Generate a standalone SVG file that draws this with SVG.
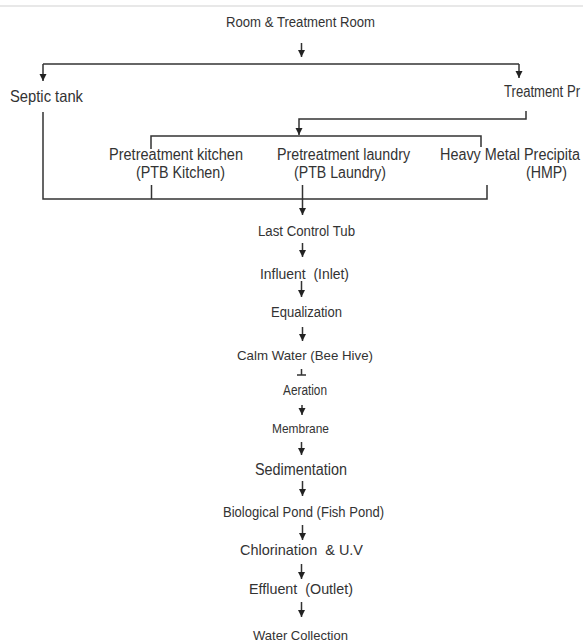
<svg xmlns="http://www.w3.org/2000/svg" width="583" height="643" viewBox="0 0 583 643">
<style>
text{font-family:"Liberation Sans",Arial,sans-serif;fill:#333;white-space:pre}
.c path{fill:none;stroke:#333;stroke-width:1.5}
</style>
<defs>
<marker id="ah" markerUnits="userSpaceOnUse" markerWidth="8" markerHeight="8" refX="7" refY="3.5" orient="auto"><path d="M0,0 L7,3.5 L0,7 z" fill="#222"/></marker>
</defs>
<rect width="583" height="643" fill="#fff"/>
<rect x="0" y="5" width="583" height="2" fill="#e8e8e8"/>
<g class="c" id="connectors">
<path d="M301.5 43 V57" marker-end="url(#ah)"/>
<path d="M43 64 H519"/>
<path d="M43 64 V81" marker-end="url(#ah)"/>
<path d="M519 64 V78" marker-end="url(#ah)"/>
<path d="M43 112 V199 H487 V185"/>
<path d="M151.5 185 V199"/>
<path d="M302.5 185 V215" marker-end="url(#ah)"/>
<path d="M526 111 V119 H299 V135" marker-end="url(#ah)"/>
<path d="M151 149 V136 H481 V147"/>
<path d="M302.5 243 V257" marker-end="url(#ah)"/>
<path d="M301.5 281 V297" marker-end="url(#ah)"/>
<path d="M302.5 327 V341" marker-end="url(#ah)"/>
<path d="M301.5 369 V375 M297 375 H306"/>
<path d="M302 405 V415" marker-end="url(#ah)"/>
<path d="M301.5 442 V455" marker-end="url(#ah)"/>
<path d="M302.5 481 V496" marker-end="url(#ah)"/>
<path d="M302.5 525 V540" marker-end="url(#ah)"/>
<path d="M301.5 564 V579" marker-end="url(#ah)"/>
<path d="M301.5 602 V617" marker-end="url(#ah)"/>
</g>
<g id="room"><text x="226" y="27" font-size="14" textLength="149" lengthAdjust="spacingAndGlyphs">Room &amp; Treatment Room</text></g>
<g id="septic"><text x="10" y="102" font-size="16.5" textLength="73" lengthAdjust="spacingAndGlyphs">Septic tank</text></g>
<g id="treatment"><text x="504" y="97" font-size="16" textLength="76" lengthAdjust="spacingAndGlyphs">Treatment Pr</text></g>
<g id="ptb-kitchen"><text x="109" y="160" font-size="16" textLength="134" lengthAdjust="spacingAndGlyphs">Pretreatment kitchen</text><text x="136" y="178" font-size="16" textLength="89" lengthAdjust="spacingAndGlyphs">(PTB Kitchen)</text></g>
<g id="ptb-laundry"><text x="277" y="160" font-size="16" textLength="133" lengthAdjust="spacingAndGlyphs">Pretreatment laundry</text><text x="294" y="178" font-size="16" textLength="92" lengthAdjust="spacingAndGlyphs">(PTB Laundry)</text></g>
<g id="hmp"><text x="440" y="160" font-size="16" textLength="140" lengthAdjust="spacingAndGlyphs">Heavy Metal Precipita</text><text x="526" y="178" font-size="16" textLength="41" lengthAdjust="spacingAndGlyphs">(HMP)</text></g>
<g id="last-control"><text x="258" y="236" font-size="14" textLength="97" lengthAdjust="spacingAndGlyphs">Last Control Tub</text></g>
<g id="influent"><text x="260" y="279" font-size="15.5" textLength="89" lengthAdjust="spacingAndGlyphs">Influent  (Inlet)</text></g>
<g id="equalization"><text x="271" y="317" font-size="14" textLength="71" lengthAdjust="spacingAndGlyphs">Equalization</text></g>
<g id="calm-water"><text x="237" y="360" font-size="13.5" textLength="136" lengthAdjust="spacingAndGlyphs">Calm Water (Bee Hive)</text></g>
<g id="aeration"><text x="283" y="395" font-size="14" textLength="44" lengthAdjust="spacingAndGlyphs">Aeration</text></g>
<g id="membrane"><text x="272" y="433" font-size="13.5" textLength="57" lengthAdjust="spacingAndGlyphs">Membrane</text></g>
<g id="sedimentation"><text x="255" y="475" font-size="16" textLength="92" lengthAdjust="spacingAndGlyphs">Sedimentation</text></g>
<g id="bio-pond"><text x="223" y="517" font-size="14.5" textLength="161" lengthAdjust="spacingAndGlyphs">Biological Pond (Fish Pond)</text></g>
<g id="chlorination"><text x="240" y="555" font-size="15" textLength="123" lengthAdjust="spacingAndGlyphs">Chlorination  &amp; U.V</text></g>
<g id="effluent"><text x="249" y="594" font-size="15.5" textLength="104" lengthAdjust="spacingAndGlyphs">Effluent  (Outlet)</text></g>
<g id="water-collection"><text x="253" y="640" font-size="13.5" textLength="95" lengthAdjust="spacingAndGlyphs">Water Collection</text></g>
</svg>
